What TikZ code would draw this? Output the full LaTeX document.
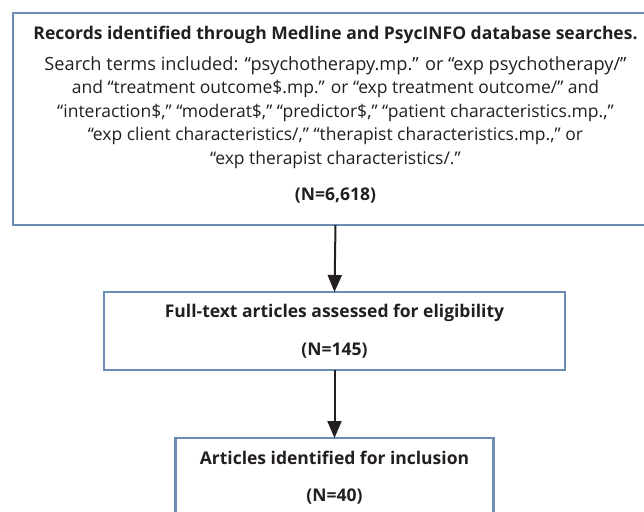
\documentclass[tikz,border=0pt]{standalone}
\usepackage{fontspec}
\setmainfont{Open Sans}
\usetikzlibrary{arrows.meta}
\definecolor{boxblue}{RGB}{106,141,181}
\definecolor{ink}{RGB}{35,31,32}
\tikzset{bx/.append style={draw=boxblue, line width=2.5pt, align=center, text=ink, inner sep=0pt, outer sep=0pt, font=\fontsize{17.5}{23.5}\selectfont}}
\tikzset{ar/.append style={draw=ink, fill=ink, line width=2pt, -{Triangle[width=14pt,length=17pt]}}}

\begin{document}
\begin{tikzpicture}[x=1pt,y=-1pt]
                \clip (0,0) rectangle (644,511);
                % boxes
                \node[bx, minimum width=645pt, minimum height=212pt] (rec) at (335.5,119)
                    {{\bfseries Records identified through Medline and PsycINFO database searches.}\\[7.5pt]
                    \fontsize{18.2}{23.5}\selectfont
                    Search terms included: “psychotherapy.mp.” or “exp psychotherapy/”\\
                    and “treatment outcome\$.mp.” or “exp treatment outcome/” and\\
                    “interaction\$,” “moderat\$,” “predictor\$,” “patient characteristics.mp.,”\\
                    “exp client characteristics/,” “therapist characteristics.mp.,” or\\
                    “exp therapist characteristics/.”\\[12.5pt]
                    \fontsize{17.5}{23.5}\selectfont
                    {\bfseries (N=6,618)}\rule[-12pt]{0pt}{0pt}};
                \node[bx, minimum width=461pt, minimum height=78pt] (full) at (334.5,331)
                    {\bfseries Full-text articles assessed for eligibility\\[14.5pt]\bfseries (N=145)};
                \node[bx, minimum width=318pt, minimum height=80pt] (incl) at (334.5,478)
                    {\bfseries Articles identified for inclusion\\[13.5pt]\bfseries (N=40)};
                % arrows
                \draw[ar] (rec.south) -- (full.north);
                \draw[ar] (full.south) -- (incl.north);
            \end{tikzpicture}
\end{document}
